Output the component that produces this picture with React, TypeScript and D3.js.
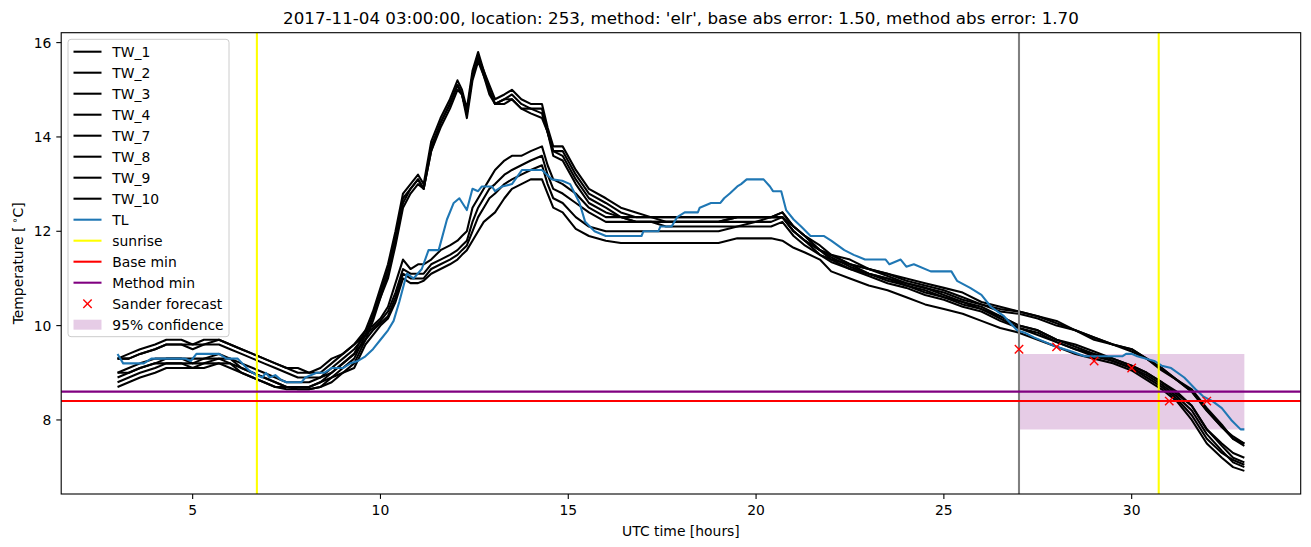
import React from 'react';
import * as d3 from 'd3';

// ---------- data ----------
const times = [
  3.0, 3.3, 3.6, 4.0, 4.3, 4.7, 5.0, 5.3, 5.7, 6.0, 6.3, 6.6, 6.9,
  7.2, 7.5, 7.8, 8.1, 8.4, 8.7, 9.0, 9.3, 9.6, 9.8, 10.0, 10.2, 10.4,
  10.6, 10.8, 11.0, 11.15, 11.35, 11.6, 11.85, 12.05, 12.17, 12.3, 12.45, 12.6, 12.75,
  12.9, 13.05, 13.3, 13.5, 13.75, 14.0, 14.3, 14.45, 14.6, 14.85, 15.2, 15.55, 16.0,
  16.4, 16.8, 17.2, 17.6, 18.0, 18.5, 19.0, 19.5, 20.0, 20.4, 20.7, 21.0, 21.3,
  21.7, 22.0, 22.5, 23.0, 23.5, 24.0, 24.5, 25.0, 25.5, 26.0, 26.5, 27.0, 27.5,
  28.0, 28.5, 29.0, 29.5, 30.0, 30.4, 30.8, 31.2, 31.6, 32.0, 32.4, 32.7, 33.0,
];

const TW_1 = [
  9.3, 9.4, 9.5, 9.6, 9.7, 9.7, 9.6, 9.7, 9.7, 9.6, 9.5, 9.4, 9.3,
  9.2, 9.1, 9.0, 9.0, 9.0, 9.2, 9.4, 9.6, 9.9, 10.3, 10.8, 11.3, 12.0,
  12.8, 13.0, 13.2, 13.0, 13.9, 14.4, 14.8, 15.2, 15.0, 14.6, 15.4, 15.8, 15.4,
  15.1, 14.8, 14.9, 15.0, 14.8, 14.7, 14.7, 14.2, 13.8, 13.8, 13.3, 12.9, 12.7,
  12.5, 12.4, 12.3, 12.3, 12.3, 12.3, 12.3, 12.3, 12.3, 12.3, 12.4, 12.1, 11.9,
  11.7, 11.5, 11.4, 11.2, 11.1, 11.0, 10.9, 10.8, 10.7, 10.5, 10.4, 10.3, 10.2,
  10.1, 9.9, 9.75, 9.6, 9.5, 9.3, 9.1, 8.85, 8.65, 8.25, 7.9, 7.6, 7.5,
];
const TW_2 = [
  9.3, 9.3, 9.4, 9.5, 9.6, 9.6, 9.6, 9.6, 9.7, 9.6, 9.5, 9.4, 9.3,
  9.2, 9.1, 9.1, 9.0, 9.1, 9.3, 9.4, 9.6, 9.8, 10.2, 10.7, 11.2, 11.9,
  12.7, 12.9, 13.1, 12.9, 13.8, 14.3, 14.7, 15.1, 14.9, 14.5, 15.3, 15.7, 15.4,
  15.0, 14.7, 14.8, 14.9, 14.7, 14.6, 14.6, 14.1, 13.7, 13.7, 13.2, 12.8, 12.6,
  12.4, 12.3, 12.3, 12.2, 12.2, 12.2, 12.2, 12.3, 12.3, 12.3, 12.4, 12.1, 11.9,
  11.6, 11.5, 11.3, 11.2, 11.1, 10.95, 10.85, 10.75, 10.6, 10.45, 10.35, 10.3, 10.2,
  10.05, 9.9, 9.7, 9.6, 9.45, 9.3, 9.05, 8.85, 8.6, 8.2, 7.85, 7.6, 7.45,
];
const TW_3 = [
  9.0, 9.1, 9.2, 9.3, 9.3, 9.3, 9.3, 9.3, 9.4, 9.3, 9.2, 9.1, 9.0,
  8.9, 8.8, 8.8, 8.8, 8.9, 9.1, 9.3, 9.5, 9.8, 10.2, 10.6, 11.1, 11.8,
  12.6, 12.9, 13.1, 12.9, 13.7, 14.3, 14.7, 15.1, 14.9, 14.5, 15.3, 15.7, 15.3,
  15.0, 14.7, 14.8, 14.8, 14.6, 14.6, 14.5, 14.1, 13.7, 13.6, 13.1, 12.7, 12.5,
  12.3, 12.2, 12.2, 12.2, 12.2, 12.2, 12.2, 12.2, 12.2, 12.3, 12.3, 12.0, 11.8,
  11.6, 11.4, 11.3, 11.1, 11.0, 10.9, 10.8, 10.65, 10.5, 10.4, 10.2, 10.0, 9.9,
  9.7, 9.55, 9.4, 9.3, 9.15, 9.0, 8.8, 8.6, 8.3, 7.8, 7.45, 7.2, 7.1,
];
const TW_4 = [
  8.9, 9.0, 9.1, 9.2, 9.3, 9.3, 9.2, 9.3, 9.3, 9.3, 9.1, 9.0, 8.9,
  8.8, 8.7, 8.7, 8.7, 8.8, 9.0, 9.2, 9.4, 9.7, 10.1, 10.6, 11.0, 11.7,
  12.5, 12.8, 13.0, 12.9, 13.7, 14.2, 14.6, 15.0, 14.9, 14.4, 15.2, 15.6, 15.3,
  14.9, 14.7, 14.7, 14.8, 14.6, 14.5, 14.4, 14.1, 13.6, 13.5, 13.0, 12.6, 12.4,
  12.3, 12.2, 12.2, 12.1, 12.1, 12.1, 12.1, 12.1, 12.2, 12.2, 12.3, 12.0, 11.8,
  11.5, 11.4, 11.2, 11.1, 10.95, 10.85, 10.7, 10.6, 10.45, 10.35, 10.15, 9.95, 9.85,
  9.65, 9.5, 9.35, 9.25, 9.1, 8.95, 8.75, 8.5, 8.2, 7.7, 7.35, 7.1, 7.0,
];
const TW_7 = [
  9.3, 9.3, 9.4, 9.5, 9.6, 9.6, 9.5, 9.6, 9.6, 9.5, 9.4, 9.3, 9.2,
  9.1, 9.0, 8.9, 8.9, 8.9, 9.0, 9.2, 9.4, 9.9, 10.0, 10.15, 10.4, 10.9,
  11.4, 11.2, 11.3, 11.3, 11.4, 11.6, 11.7, 11.8, 11.9, 12.0, 12.5, 12.7, 12.9,
  13.1, 13.3, 13.5, 13.6, 13.6, 13.7, 13.8, 13.4, 13.1, 13.0, 12.8, 12.5, 12.3,
  12.3, 12.3, 12.3, 12.3, 12.3, 12.3, 12.3, 12.3, 12.3, 12.3, 12.3, 12.1, 11.9,
  11.6, 11.5, 11.3, 11.2, 11.05, 10.9, 10.8, 10.7, 10.55, 10.45, 10.3, 10.25, 10.15,
  10.0, 9.9, 9.75, 9.6, 9.5, 9.3, 9.1, 8.85, 8.6, 8.2, 7.85, 7.65, 7.5,
];
const TW_8 = [
  9.0, 9.0, 9.1, 9.2, 9.2, 9.2, 9.2, 9.2, 9.3, 9.2, 9.1, 9.0, 8.9,
  8.8, 8.7, 8.7, 8.7, 8.8, 8.9, 9.1, 9.3, 9.8, 9.95, 10.1, 10.3, 10.7,
  11.2, 11.1, 11.1, 11.1, 11.3, 11.4, 11.5, 11.6, 11.7, 11.8, 12.2, 12.5, 12.7,
  12.9, 13.0, 13.2, 13.3, 13.4, 13.5, 13.6, 13.2, 12.9, 12.8, 12.6, 12.4, 12.2,
  12.2, 12.2, 12.2, 12.2, 12.2, 12.2, 12.2, 12.3, 12.3, 12.3, 12.3, 12.0, 11.8,
  11.6, 11.45, 11.25, 11.1, 11.0, 10.85, 10.75, 10.6, 10.5, 10.35, 10.2, 10.0, 9.9,
  9.7, 9.6, 9.45, 9.3, 9.15, 9.0, 8.8, 8.55, 8.3, 7.8, 7.5, 7.3, 7.2,
];
const TW_9 = [
  8.8, 8.9, 9.0, 9.1, 9.2, 9.2, 9.1, 9.2, 9.2, 9.2, 9.0, 8.9, 8.8,
  8.7, 8.7, 8.65, 8.65, 8.7, 8.9, 9.0, 9.2, 9.7, 9.9, 10.05, 10.2, 10.6,
  11.1, 11.0, 11.0, 11.0, 11.2, 11.3, 11.4, 11.5, 11.6, 11.7, 12.0, 12.3, 12.5,
  12.7, 12.8, 13.0, 13.1, 13.2, 13.3, 13.4, 13.0, 12.7, 12.6, 12.3, 12.1, 12.0,
  12.0, 12.0, 12.0, 12.0, 12.0, 12.0, 12.0, 12.1, 12.1, 12.1, 12.2, 11.9, 11.7,
  11.5, 11.35, 11.2, 11.05, 10.9, 10.8, 10.65, 10.55, 10.4, 10.3, 10.1, 9.95, 9.8,
  9.65, 9.5, 9.4, 9.25, 9.1, 8.9, 8.7, 8.45, 8.1, 7.6, 7.3, 7.15, 7.05,
];
const TW_10 = [
  8.7, 8.8, 8.9, 9.0, 9.1, 9.1, 9.1, 9.1, 9.2, 9.1, 9.0, 8.9, 8.8,
  8.7, 8.65, 8.65, 8.65, 8.7, 8.8, 9.0, 9.1, 9.6, 9.8, 10.0, 10.15, 10.5,
  11.0, 10.9, 10.9, 10.95, 11.1, 11.2, 11.3, 11.4, 11.5, 11.6, 11.8, 12.0, 12.2,
  12.3, 12.4, 12.7, 12.9, 13.0, 13.1, 13.1, 12.8, 12.5, 12.4, 12.05, 11.9, 11.8,
  11.75, 11.75, 11.75, 11.75, 11.75, 11.75, 11.75, 11.85, 11.85, 11.85, 11.8, 11.65, 11.55,
  11.4, 11.15, 11.0, 10.85, 10.75, 10.6, 10.45, 10.35, 10.25, 10.1, 9.95, 9.85, 9.7,
  9.55, 9.4, 9.3, 9.2, 9.05, 8.85, 8.65, 8.4, 8.0, 7.5, 7.2, 7.0, 6.92,
];

const twNames = ['TW_1', 'TW_2', 'TW_3', 'TW_4', 'TW_7', 'TW_8', 'TW_9', 'TW_10'];
const twSeries = [TW_1, TW_2, TW_3, TW_4, TW_7, TW_8, TW_9, TW_10];

const tlTimes = [
  3.0, 3.15, 3.7, 3.9, 4.8, 4.95, 5.1, 5.7, 5.9, 6.2, 6.5, 6.7, 6.85, 6.95, 7.05, 7.2, 7.35, 7.5, 7.9,
  8.0, 8.3, 8.5, 8.7, 9.0, 9.2, 9.4, 9.6, 9.8, 10.0, 10.2, 10.35, 10.5, 10.7, 10.88, 11.1, 11.28, 11.55,
  11.77, 11.95, 12.1, 12.3, 12.45, 12.6, 12.7, 12.97, 13.05, 13.24, 13.5, 13.77, 14.3, 14.57, 14.84,
  15.05, 15.3, 15.45, 15.7, 16.0, 16.95, 17.0, 17.4, 17.45, 17.75, 17.9, 18.1, 18.45, 18.5, 18.8, 19.05,
  19.15, 19.3, 19.5, 19.6, 19.75, 20.2, 20.37, 20.45, 20.67, 20.8, 21.0, 21.2, 21.45, 21.8, 22.0, 22.35,
  22.6, 22.9, 23.45, 23.55, 23.85, 24.0, 24.2, 24.65, 25.2, 25.35, 25.7, 26.0, 26.25, 26.6, 26.95, 27.15,
  27.4, 27.7, 28.0, 28.4, 28.75, 29.75, 29.85, 30.0, 30.15, 30.6, 30.8, 31.05, 31.4, 31.7, 31.9, 32.15,
  32.4, 32.65, 32.9, 33.0,
];
const tlValues = [
  9.4, 9.2, 9.2, 9.3, 9.3, 9.25, 9.4, 9.4, 9.3, 9.3, 9.05, 8.95, 8.9, 9.0, 8.9, 8.95, 8.85, 8.8, 8.8,
  8.9, 9.0, 9.0, 9.1, 9.1, 9.2, 9.25, 9.35, 9.5, 9.7, 9.9, 10.1, 10.5, 11.1, 11.0, 11.2, 11.6, 11.6,
  12.25, 12.6, 12.7, 12.45, 12.9, 12.85, 12.95, 12.95, 12.85, 12.95, 13.0, 13.3, 13.3, 13.1, 13.07,
  13.0, 12.6, 12.2, 12.0, 11.9, 11.9, 12.0, 12.0, 12.1, 12.1, 12.3, 12.4, 12.4, 12.5, 12.6, 12.6,
  12.7, 12.8, 12.95, 13.0, 13.1, 13.1, 12.95, 12.85, 12.85, 12.45, 12.25, 12.1, 11.9, 11.9, 11.8, 11.6,
  11.5, 11.4, 11.4, 11.3, 11.4, 11.25, 11.3, 11.15, 11.15, 10.95, 10.8, 10.65, 10.4, 10.2, 9.9, 9.85,
  9.75, 9.65, 9.55, 9.45, 9.35, 9.35, 9.4, 9.4, 9.35, 9.25, 9.15, 9.1, 8.9, 8.65, 8.5, 8.4,
  8.25, 8.0, 7.8, 7.8,
];

const sunriseHours = [6.71, 30.72];
const forecastStartHour = 27;
const baseMin = 8.4;
const methodMin = 8.6;
const forecastHours = [27, 28, 29, 30, 31, 32];
const forecastValues = [9.5, 9.55, 9.25, 9.1, 8.4, 8.4];
const confidenceHours = [27, 33];
const confidenceLow = 7.8;
const confidenceHigh = 9.4;

const xTicks = [5, 10, 15, 20, 25, 30];
const yTicks = [8, 10, 12, 14, 16];

const titleText =
  "2017-11-04 03:00:00, location: 253, method: 'elr', base abs error: 1.50, method abs error: 1.70";

const legendLabels = [
  ...twNames,
  'TL',
  'sunrise',
  'Base min',
  'Method min',
  'Sander forecast',
  '95% confidence',
];

// ---------- styles ----------
const FONT = 'DejaVu Sans, sans-serif';
const FS = 13.9;
const BLUE = '#1f77b4';
const LW = 2.08;

export default function App() {
  const left = 61.2;
  const right = 1300.7;
  const top = 32.7;
  const bottom = 494;

  const x = d3.scaleLinear().domain([1.5, 34.5]).range([left, right]);
  const y = d3.scaleLinear().domain([6.43, 16.21]).range([bottom, top]);

  const line = d3
    .line<[number, number]>()
    .x((d) => x(d[0]))
    .y((d) => y(d[1]));

  const twPaths = twSeries.map((vals) =>
    line(times.map((t, i) => [t, vals[i]] as [number, number]))
  );
  const tlPath = line(tlTimes.map((t, i) => [t, tlValues[i]] as [number, number]));

  const band = d3
    .area<number>()
    .x((d) => x(d))
    .y0(() => y(confidenceLow))
    .y1(() => y(confidenceHigh))(confidenceHours);

  const ms = 4.2;

  // legend geometry
  const lgX = 68;
  const lgY = 39.3;
  const lgW = 161;
  const rowH = 21;
  const lgH = rowH * legendLabels.length + 3.4;
  const row0 = 51.7;

  const legendHandle = (label: string, cy: number) => {
    const hx0 = 73.5;
    const hx1 = 101.5;
    if (twNames.includes(label))
      return <line x1={hx0} x2={hx1} y1={cy} y2={cy} stroke="black" strokeWidth={LW} />;
    if (label === 'TL')
      return <line x1={hx0} x2={hx1} y1={cy} y2={cy} stroke={BLUE} strokeWidth={LW} />;
    if (label === 'sunrise')
      return <line x1={hx0} x2={hx1} y1={cy} y2={cy} stroke="#ffff00" strokeWidth={LW} />;
    if (label === 'Base min')
      return <line x1={hx0} x2={hx1} y1={cy} y2={cy} stroke="#ff0000" strokeWidth={LW} />;
    if (label === 'Method min')
      return <line x1={hx0} x2={hx1} y1={cy} y2={cy} stroke="#800080" strokeWidth={LW} />;
    if (label === 'Sander forecast') {
      const mx = 87.5;
      return (
        <g stroke="#ff0000" strokeWidth={1.4}>
          <line x1={mx - ms} x2={mx + ms} y1={cy - ms} y2={cy + ms} />
          <line x1={mx - ms} x2={mx + ms} y1={cy + ms} y2={cy - ms} />
        </g>
      );
    }
    return <rect x={hx0} y={cy - 5} width={hx1 - hx0} height={10} fill="#800080" fillOpacity={0.2} />;
  };

  return (
    <svg
      width={1311}
      height={547}
      style={{ position: 'absolute', left: 0, top: 0, background: 'white' }}
      fontFamily={FONT}
    >
      <rect x={0} y={0} width={1311} height={547} fill="white" />
      <defs>
        <clipPath id="plotclip">
          <rect x={left} y={top} width={right - left} height={bottom - top} />
        </clipPath>
      </defs>

      <g clipPath="url(#plotclip)">
        <path d={band || ''} fill="#800080" fillOpacity={0.2} />
        {twPaths.map((p, i) => (
          <path key={i} d={p || ''} fill="none" stroke="black" strokeWidth={LW} strokeLinejoin="round" />
        ))}
        <path d={tlPath || ''} fill="none" stroke={BLUE} strokeWidth={LW} strokeLinejoin="round" />
        {sunriseHours.map((h, i) => (
          <line key={i} x1={x(h)} x2={x(h)} y1={top} y2={bottom} stroke="#ffff00" strokeWidth={LW} />
        ))}
        <line
          x1={x(forecastStartHour)}
          x2={x(forecastStartHour)}
          y1={top}
          y2={bottom}
          stroke="#808080"
          strokeWidth={LW}
        />
        <line x1={left} x2={right} y1={y(baseMin)} y2={y(baseMin)} stroke="#ff0000" strokeWidth={LW} />
        <line x1={left} x2={right} y1={y(methodMin)} y2={y(methodMin)} stroke="#800080" strokeWidth={LW} />
        {forecastHours.map((h, i) => {
          const cx = x(h);
          const cy = y(forecastValues[i]);
          return (
            <g key={i} stroke="#ff0000" strokeWidth={1.4}>
              <line x1={cx - ms} x2={cx + ms} y1={cy - ms} y2={cy + ms} />
              <line x1={cx - ms} x2={cx + ms} y1={cy + ms} y2={cy - ms} />
            </g>
          );
        })}
      </g>

      {/* axes frame */}
      <rect x={left} y={top} width={right - left} height={bottom - top} fill="none" stroke="black" strokeWidth={1.1} />

      {/* x ticks */}
      {xTicks.map((t) => (
        <g key={t}>
          <line x1={x(t)} x2={x(t)} y1={bottom} y2={bottom + 4.9} stroke="black" strokeWidth={1.1} />
          <text x={x(t)} y={bottom + 21} textAnchor="middle" fontSize={FS} fill="black">
            {t}
          </text>
        </g>
      ))}
      {/* y ticks */}
      {yTicks.map((v) => (
        <g key={v}>
          <line x1={left - 4.9} x2={left} y1={y(v)} y2={y(v)} stroke="black" strokeWidth={1.1} />
          <text x={left - 9.8} y={y(v) + 5} textAnchor="end" fontSize={FS} fill="black">
            {v}
          </text>
        </g>
      ))}

      {/* labels */}
      <text x={(left + right) / 2} y={536} textAnchor="middle" fontSize={FS} fill="black">
        UTC time [hours]
      </text>
      <text
        transform={`translate(23, ${(top + bottom) / 2}) rotate(-90)`}
        textAnchor="middle"
        fontSize={FS}
        fill="black"
      >
        Temperature [<tspan dx={3} fontSize={FS * 0.7} dy={-5}>{'\u2218'}</tspan>
        <tspan dy={5}>C]</tspan>
      </text>
      <text x={(left + right) / 2} y={24} textAnchor="middle" fontSize={16.7} fill="black">
        {titleText}
      </text>

      {/* legend */}
      <rect
        x={lgX}
        y={lgY}
        width={lgW}
        height={lgH}
        rx={3}
        ry={3}
        fill="white"
        fillOpacity={0.8}
        stroke="#cccccc"
        strokeWidth={1}
      />
      {legendLabels.map((lab, i) => {
        const cy = row0 + i * rowH;
        return (
          <g key={lab}>
            {legendHandle(lab, cy)}
            <text x={112.3} y={cy + 5} fontSize={FS} fill="black">
              {lab}
            </text>
          </g>
        );
      })}
    </svg>
  );
}
